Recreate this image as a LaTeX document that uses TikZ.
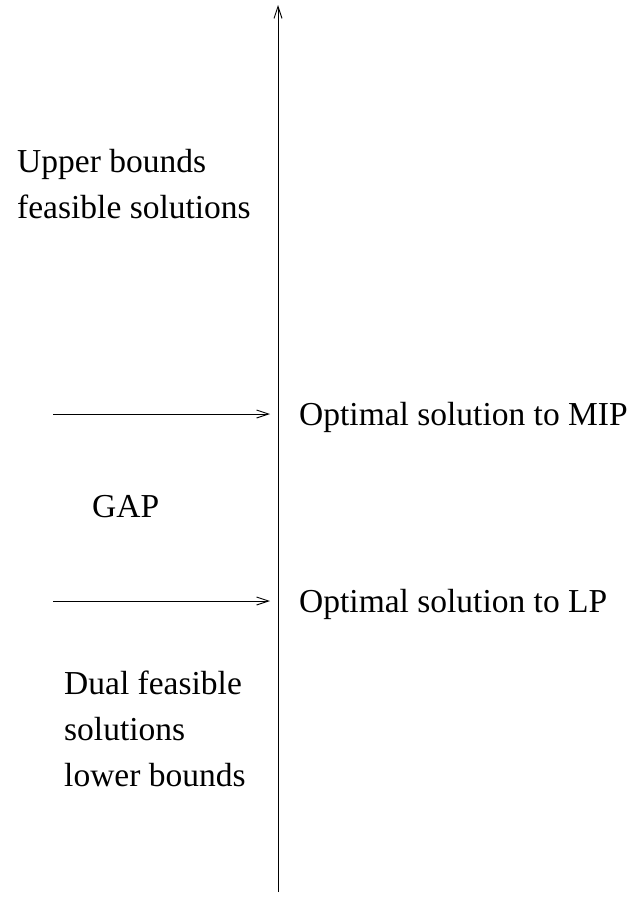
\documentclass[tikz,border=0pt]{standalone}
\usepackage{fontspec}
\setmainfont{Liberation Serif}
\usetikzlibrary{arrows.meta}
\begin{document}
\begin{tikzpicture}[x=1pt,y=-1pt,
  lbl/.style={anchor=base west,inner sep=0pt,align=left,font=\fontsize{33.5}{46}\selectfont},
  conn/.style={line width=0.9pt,-{Straight Barb[length=12pt,width=8pt,line width=0.9pt]}}]
\useasboundingbox (0,0) rectangle (629,897);
\coordinate (axisbot) at (278,892);
\coordinate (axistop) at (278,5);
\draw[conn] (axisbot) -- (axistop);
\node[lbl] (upper) at (17,218) {Upper bounds\\feasible solutions};
\coordinate (mipstart) at (53,414);
\coordinate (mipend) at (270,414);
\draw[conn] (mipstart) -- (mipend);
\node[lbl] (mip) at (299,425) {Optimal solution to MIP};
\node[lbl] (gap) at (92,517) {GAP};
\coordinate (lpstart) at (53,601);
\coordinate (lpend) at (270,601);
\draw[conn] (lpstart) -- (lpend);
\node[lbl] (lp) at (299,612) {Optimal solution to LP};
\node[lbl] (dual) at (64,786) {Dual feasible\\solutions\\lower bounds};
\end{tikzpicture}
\end{document}
